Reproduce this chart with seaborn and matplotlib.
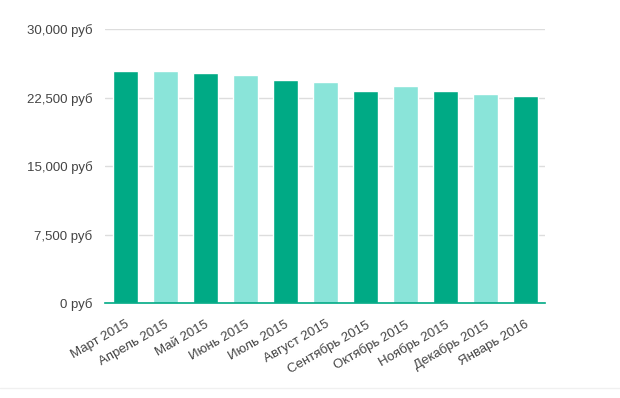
import matplotlib
matplotlib.use("Agg")
import matplotlib.pyplot as plt
import seaborn as sns
import pandas as pd
from matplotlib.ticker import FuncFormatter

months = ["Март 2015", "Апрель 2015", "Май 2015", "Июнь 2015", "Июль 2015",
          "Август 2015", "Сентябрь 2015", "Октябрь 2015", "Ноябрь 2015",
          "Декабрь 2015", "Январь 2016"]
salary = [25450, 25450, 25230, 25000, 24460, 24240, 23250, 23800, 23250, 22920, 22700]
yticks = [0, 7500, 15000, 22500, 30000]

dark, light = "#00aa85", "#8ae4d9"
palette = [dark if i % 2 == 0 else light for i in range(len(months))]

df = pd.DataFrame({"month": months, "salary": salary})

sns.set_style("white")
plt.rcParams["font.family"] = ["Liberation Sans", "DejaVu Sans"]

fig = plt.figure(figsize=(6.2, 3.98), dpi=100)
ax = fig.add_axes([0.1694, 0.2387, 0.7097, 0.6873])

sns.barplot(data=df, x="month", y="salary", hue="month", palette=palette,
            legend=False, width=0.625, saturation=1, ax=ax, zorder=3)

ax.set_ylim(0, 30000)
ax.set_xlim(-0.5, len(months) - 0.5)
ax.set_yticks(yticks)
ax.yaxis.set_major_formatter(FuncFormatter(lambda v, p: f"{int(v):,} руб"))
ax.grid(axis="y", color="#dddddd", linewidth=1, zorder=0)
ax.set_xlabel("")
ax.set_ylabel("")

for s in ["top", "right", "left"]:
    ax.spines[s].set_visible(False)
ax.spines["bottom"].set_color(dark)
ax.spines["bottom"].set_linewidth(1.2)
ax.spines["bottom"].set_zorder(4)

ax.tick_params(axis="both", length=0, labelsize=9.5, labelcolor="#444444")
ax.tick_params(axis="y", pad=9)
ax.tick_params(axis="x", pad=11)
plt.setp(ax.get_xticklabels(), rotation=30, ha="right", rotation_mode="anchor")

# thin footer separator
fig.add_artist(plt.Line2D([0, 1], [1 - 388 / 398] * 2, color="#f0f0f0", linewidth=1))

fig.savefig("out.png", dpi=100)
